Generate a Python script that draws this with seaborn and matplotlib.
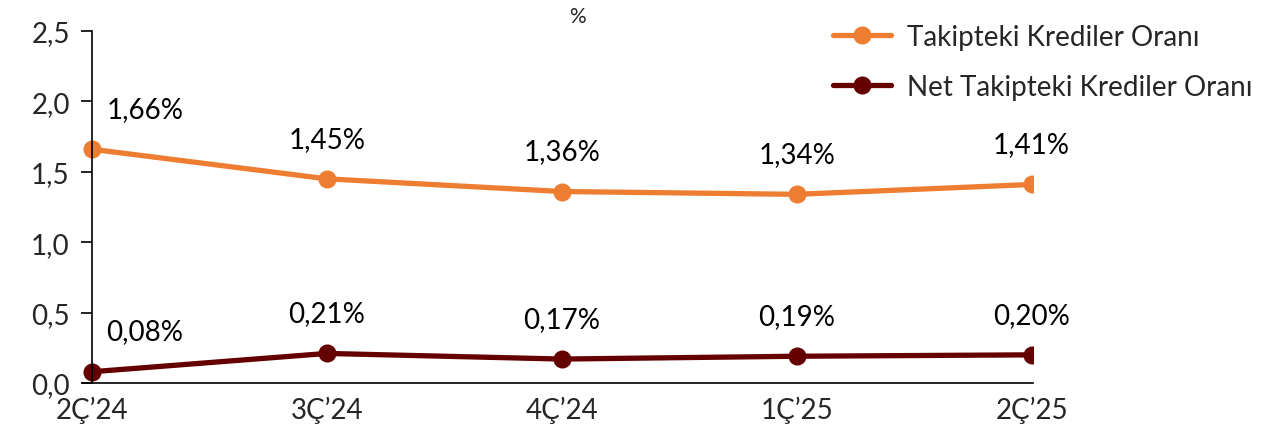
import matplotlib
matplotlib.use("Agg")
import matplotlib.pyplot as plt
import seaborn as sns
import pandas as pd

quarters = ["2Ç’24", "3Ç’24", "4Ç’24", "1Ç’25", "2Ç’25"]
npl_ratio = [1.66, 1.45, 1.36, 1.34, 1.41]
net_npl_ratio = [0.08, 0.21, 0.17, 0.19, 0.20]
series_names = ["Takipteki Krediler Oranı", "Net Takipteki Krediler Oranı"]
y_ticks = [0.0, 0.5, 1.0, 1.5, 2.0, 2.5]

sns.set_theme(style="white")
plt.rcParams["font.family"] = ["Lato", "DejaVu Sans"]

df = pd.DataFrame({
    "pos": list(range(len(quarters))) * 2,
    "value": npl_ratio + net_npl_ratio,
    "series": [series_names[0]] * len(quarters) + [series_names[1]] * len(quarters),
})

palette = {series_names[0]: "#ED7D31", series_names[1]: "#650000"}

fig = plt.figure(figsize=(12.62, 4.31), dpi=100)
ax = fig.add_axes([82 / 1262, 1 - 384 / 431, (1033 - 82) / 1262, (384 - 32) / 431])

sns.lineplot(data=df, x="pos", y="value", hue="series", palette=palette,
             marker="o", markersize=13, markeredgewidth=0, linewidth=3.8,
             ax=ax, legend=True)

fs = 20
for vals, name in [(npl_ratio, series_names[0]), (net_npl_ratio, series_names[1])]:
    for i, v in enumerate(vals):
        dx = 38 if i == 0 else 0
        ax.annotate(f"{v:.2f}%".replace(".", ","), (i, v), xytext=(dx, 29),
                    textcoords="offset points", ha="center", va="center",
                    fontsize=fs, color="black")

ax.set_xlim(-0.0426, 4.006)
ax.set_ylim(0, 2.5)

for s in ["top", "right"]:
    ax.spines[s].set_visible(False)
ax.spines["left"].set_position(("data", 0))
ax.spines["left"].set_color("black")
ax.spines["bottom"].set_color("black")
ax.spines["left"].set_linewidth(1.2)
ax.spines["bottom"].set_linewidth(1.2)

ax.set_xticks(range(len(quarters)))
ax.set_xticklabels(quarters)
ax.set_yticks(y_ticks)
ax.set_yticklabels([f"{t:.1f}".replace(".", ",") for t in y_ticks])
ax.set_xlabel("")
ax.set_ylabel("")
ax.tick_params(axis="y", which="both", left=True, length=8, width=1.2, color="black",
               pad=8, labelsize=fs)
ax.tick_params(axis="x", which="both", bottom=False, pad=3, labelsize=fs)

handles, labels = ax.get_legend_handles_labels()
ax.legend_.remove()
fig.legend(handles, labels, loc="upper left", bbox_to_anchor=(822 / 1262, 1 - 14 / 431),
           frameon=False, fontsize=fs, handlelength=2.1, labelspacing=0.85,
           handletextpad=0.55, borderaxespad=0)

fig.text(577 / 1262, 1 - 17 / 431, "%", ha="center", va="center", fontsize=15)

fig.savefig("out.png", dpi=100)
